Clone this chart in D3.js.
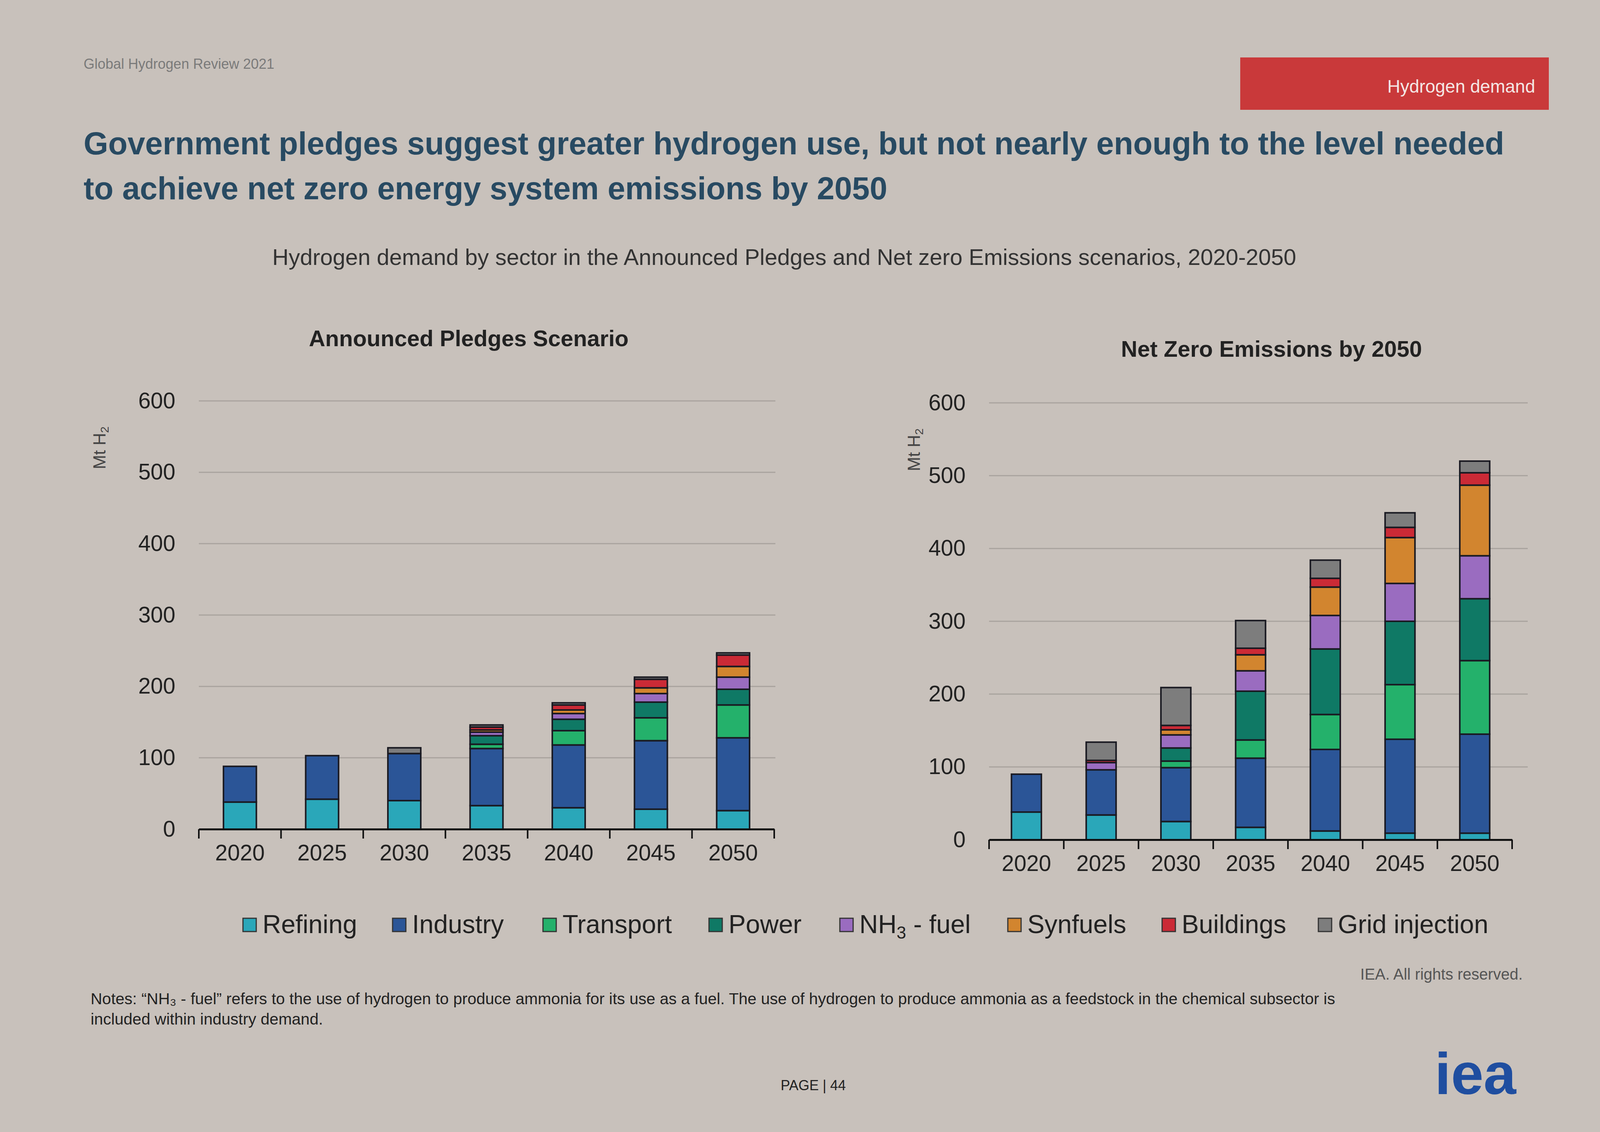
<!DOCTYPE html>
<html><head><meta charset="utf-8">
<script src="https://cdn.jsdelivr.net/npm/d3@7"></script>
<style>body{margin:0;background:#c8c1bb;}svg{display:block;font-family:Arial,"Liberation Sans",sans-serif;}</style>
</head><body>
<svg id="c" width="4200" height="2897"></svg>
<script>
const years = ["2020","2025","2030","2035","2040","2045","2050"];
const sectors = ["Refining","Industry","Transport","Power","NH3 - fuel","Synfuels","Buildings","Grid injection"];
const colors = ["#2aa7b9","#2b5597","#24b16b","#0f7965","#9a6cc0","#d2852f","#cb2a36","#7d7d7d"];
const yTicks = [0,100,200,300,400,500,600];
// Announced Pledges Scenario, Mt H2
const apsRefining  = [38,42,40,33,30,28,26];
const apsIndustry  = [50,61,66,80,88,96,102];
const apsTransport = [0,0,0,6,20,32,46];
const apsPower     = [0,0,0,12,16,22,22];
const apsNH3       = [0,0,0,5,8,12,17];
const apsSynfuels  = [0,0,0,3,5,8,15];
const apsBuildings = [0,0,0,4,7,12,16];
const apsGrid      = [0,0,8,3,3,3,3];
// Net Zero Emissions by 2050, Mt H2
const nzeRefining  = [38,34,25,17,12,9,9];
const nzeIndustry  = [52,62,74,95,112,129,136];
const nzeTransport = [0,0,9,25,48,75,101];
const nzePower     = [0,0,18,67,90,87,85];
const nzeNH3       = [0,10,18,28,46,52,59];
const nzeSynfuels  = [0,0,7,22,39,63,97];
const nzeBuildings = [0,3,6,9,12,14,17];
const nzeGrid      = [0,25,52,38,25,20,16];

const aps = [apsRefining,apsIndustry,apsTransport,apsPower,apsNH3,apsSynfuels,apsBuildings,apsGrid];
const nze = [nzeRefining,nzeIndustry,nzeTransport,nzePower,nzeNH3,nzeSynfuels,nzeBuildings,nzeGrid];

const svg = d3.select("#c");
svg.append("rect").attr("width",4200).attr("height",2897).attr("fill","#c8c1bb");

function txt(x,y,s,size,opt={}){
  return svg.append("text").attr("x",x).attr("y",y).attr("font-size",size)
    .attr("fill",opt.fill||"#333").attr("font-weight",opt.bold?"bold":"normal")
    .attr("text-anchor",opt.anchor||"start").text(s);
}
txt(214,176,"Global Hydrogen Review 2021",36,{fill:"#7a7a7a"});
svg.append("rect").attr("x",3175).attr("y",147).attr("width",790).attr("height",134).attr("fill","#c9393a");
txt(3930,237,"Hydrogen demand",46,{fill:"#f4e6e4",anchor:"end"});
txt(214,395,"Government pledges suggest greater hydrogen use, but not nearly enough to the level needed",81,{fill:"#284a62",bold:true});
txt(214,510,"to achieve net zero energy system emissions by 2050",81,{fill:"#284a62",bold:true});
txt(697,678,"Hydrogen demand by sector in the Announced Pledges and Net zero Emissions scenarios, 2020-2050",58,{fill:"#333"});

function chart(data,x0,x1,y0,y600,gridEnd,title,tx,ty,ylx){
  const g = svg.append("g");
  const x = d3.scaleBand().domain(years).range([x0,x1]).paddingInner(0.6).paddingOuter(0.3);
  const y = d3.scaleLinear().domain([0,600]).range([y0,y600]);
  yTicks.slice(1).forEach(t=>{
    g.append("line").attr("x1",x0).attr("x2",gridEnd).attr("y1",y(t)).attr("y2",y(t))
      .attr("stroke","#a9a39e").attr("stroke-width",3);
  });
  const rows = years.map((yr,i)=>{const o={year:yr};sectors.forEach((s,k)=>o[s]=data[k][i]);return o;});
  const stack = d3.stack().keys(sectors)(rows);
  stack.forEach((layer,k)=>{
    g.selectAll(null).data(layer.filter(d=>d[1]-d[0]>0)).join("rect")
      .attr("x",d=>x(d.data.year)).attr("width",x.bandwidth())
      .attr("y",d=>y(d[1])).attr("height",d=>y(d[0])-y(d[1]))
      .attr("fill",colors[k]).attr("stroke","#1a1a22").attr("stroke-width",4);
  });
  const ax = g.append("g").attr("transform",`translate(0,${y0})`)
    .call(d3.axisBottom(x).tickSize(0).tickPadding(40));
  ax.select(".domain").attr("stroke","#111").attr("stroke-width",5);
  ax.selectAll("text").attr("font-size",57).attr("fill","#222").attr("font-family","Arial,'Liberation Sans',sans-serif");
  years.concat(["end"]).forEach((yr,i)=>{
    const xx = x0 + i*(x1-x0)/years.length;
    g.append("line").attr("x1",xx).attr("x2",xx).attr("y1",y0).attr("y2",y0+24).attr("stroke","#111").attr("stroke-width",4);
  });
  const ay = g.append("g").attr("transform",`translate(${x0-60},0)`)
    .call(d3.axisLeft(y).tickValues(yTicks).tickSize(0).tickPadding(0));
  ay.select(".domain").remove();
  ay.selectAll("text").attr("font-size",57).attr("fill","#222").attr("font-family","Arial,'Liberation Sans',sans-serif");
  txt(tx,ty,title,58,{bold:true,anchor:"middle",fill:"#222"});
  const yl = svg.append("text").attr("transform",`translate(${ylx},${y600+120}) rotate(-90)`)
    .attr("font-size",44).attr("fill","#444").attr("text-anchor","middle");
  yl.append("tspan").text("Mt H");
  yl.append("tspan").attr("font-size",30).attr("dy",8).text("2");
}
chart(aps,509,1982,2122,1026,1985,"Announced Pledges Scenario",1200,886,270);
chart(nze,2532,3871,2149,1031,3911,"Net Zero Emissions by 2050",3255,913,2355);

const legX = [622,1005,1390,1815,2150,2580,2975,3375];
sectors.forEach((s,k)=>{
  svg.append("rect").attr("x",legX[k]).attr("y",2350).attr("width",34).attr("height",34)
    .attr("fill",colors[k]).attr("stroke","#333").attr("stroke-width",3);
  const t = svg.append("text").attr("x",legX[k]+50).attr("y",2388).attr("font-size",66).attr("fill","#222");
  if(s==="NH3 - fuel"){t.append("tspan").text("NH");t.append("tspan").attr("font-size",44).attr("dy",14).text("3");t.append("tspan").attr("dy",-14).text(" - fuel");}
  else t.text(s);
});
txt(3898,2507,"IEA. All rights reserved.",40,{fill:"#555",anchor:"end"});
txt(232,2570,"Notes: “NH₃ - fuel” refers to the use of hydrogen to produce ammonia for its use as a fuel. The use of hydrogen to produce ammonia as a feedstock in the chemical subsector is",41,{fill:"#222"});
txt(232,2622,"included within industry demand.",41,{fill:"#222"});
txt(2082,2790,"PAGE | 44",36,{fill:"#222",anchor:"middle"});
txt(3777,2800,"iea",150,{fill:"#1f4ea0",bold:true,anchor:"middle"});
</script>
</body></html>
